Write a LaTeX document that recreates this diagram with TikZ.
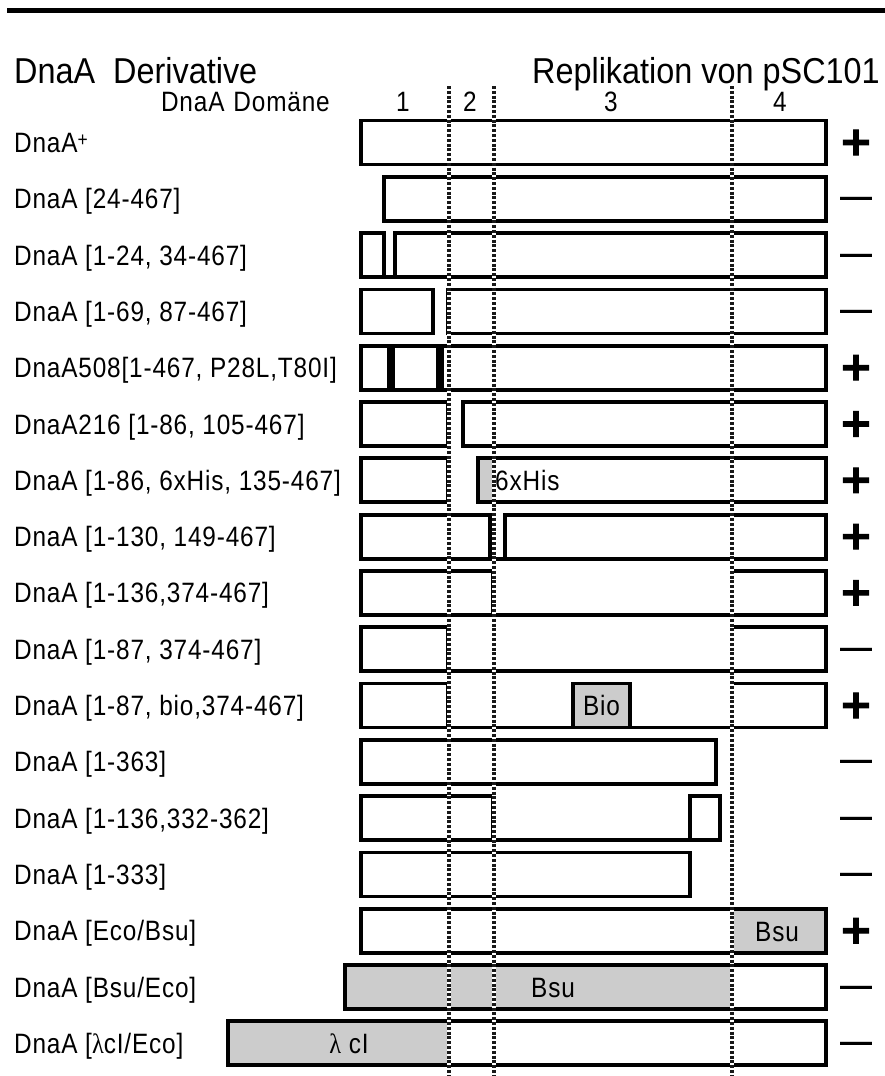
\documentclass[tikz,border=0pt]{standalone}
\usepackage{fontspec}
\setmainfont{Liberation Sans}
\newfontfamily\hdrfont{Liberation Sans}[FakeStretch=0.9]
\newfontfamily\lblfont{Liberation Sans}[FakeStretch=0.87,LetterSpace=3]
\newfontfamily\grfont{Liberation Serif}[FakeStretch=0.87]
\newfontfamily\plusfont{DejaVu Sans Bold}[FakeBold=2.5]
\newfontfamily\minusfont{Liberation Sans Bold}
\definecolor{fillg}{gray}{0.8}
\begin{document}
\begin{tikzpicture}[x=1pt,y=-1pt,
  bx/.style={draw=black,line width=3.8pt,fill=white},
  bxl/.style={draw=black,line width=3.8pt},
  gfill/.style={fill=fillg},
  dotbase/.style={draw=white,line width=3.2pt},
  dotl/.style={draw=black!90,line width=3.2pt,dash pattern=on 3pt off 1.8pt},
  lbl/.style={anchor=base west,inner sep=0pt,font=\lblfont\fontsize{28}{32}\selectfont},
  intext/.style={anchor=base,inner sep=0pt,font=\lblfont\fontsize{28}{32}\selectfont},
  hdr/.style={inner sep=0pt,font=\hdrfont\fontsize{36}{40}\selectfont},
  plussign/.style={anchor=center,inner sep=0pt,font=\plusfont\fontsize{40}{42}\selectfont},
  minussign/.style={anchor=base,inner sep=0pt,font=\minusfont\fontsize{32}{36}\selectfont}]
\useasboundingbox (0,0) rectangle (885,1076);
% top rule
\draw[line width=5pt] (7,10) -- (885,10);
% header
\node[hdr,anchor=base west] (h1) at (14,83) {DnaA\ \ Derivative};
\node[hdr,anchor=base east] (h2) at (880,83) {Replikation von pSC101};
\node[intext,anchor=base east] (dom) at (330,111.5) {DnaA\hspace{9pt}Domäne};
\node[intext] (d1) at (403,111.5) {1};
\node[intext] (d2) at (470,111.5) {2};
\node[intext] (d3) at (611,111.5) {3};
\node[intext] (d4) at (780,111.5) {4};

% ---- boxes ----
% row 1
\draw[bx] (361,120.5) rectangle (826,164.5);
% row 2
\draw[bx] (384,176.8) rectangle (826,220.8);
% row 3
\draw[bxl] (384,277.1) -- (395,277.1);
\draw[bx] (361,233.1) rectangle (384,277.1);
\draw[bx] (395,233.1) rectangle (826,277.1);
% row 4
\draw[bx] (361,289.4) rectangle (433,333.4);
\draw[bx] (448,289.4) rectangle (826,333.4);
% row 5
\draw[bx] (361,345.7) rectangle (826,389.7);
\fill (387,345.7) rectangle (395,389.7);
\fill (436,345.7) rectangle (444,389.7);
% row 6
\draw[bx] (361,402) rectangle (448,446);
\draw[bx] (463,402) rectangle (826,446);
% row 7
\draw[bx] (361,458.3) rectangle (448,502.3);
\fill[gfill] (478,458.3) rectangle (493,502.3);
\draw[bxl] (478,458.3) rectangle (826,502.3);
% row 8
\draw[bxl] (490,558.6) -- (505,558.6);
\draw[bx] (361,514.6) rectangle (490,558.6);
\draw[bx] (505,514.6) rectangle (826,558.6);
% row 9
\draw[bxl] (493,614.9) -- (732,614.9);
\draw[bx] (361,570.9) rectangle (493,614.9);
\draw[bx] (732,570.9) rectangle (826,614.9);
% row 10
\draw[bxl] (448,671.2) -- (732,671.2);
\draw[bx] (361,627.2) rectangle (448,671.2);
\draw[bx] (732,627.2) rectangle (826,671.2);
% row 11
\draw[bxl] (448,727.5) -- (732,727.5);
\draw[bx] (361,683.5) rectangle (448,727.5);
\draw[bx,gfill] (573,683.5) rectangle (630,727.5);
\draw[bx] (732,683.5) rectangle (826,727.5);
% row 12
\draw[bx] (361,739.8) rectangle (716,783.8);
% row 13
\draw[bxl] (493,840.1) -- (690,840.1);
\draw[bx] (361,796.1) rectangle (493,840.1);
\draw[bx] (690,796.1) rectangle (720,840.1);
% row 14
\draw[bx] (361,852.4) rectangle (690,896.4);
% row 15
\fill[gfill] (732,908.7) rectangle (826,952.7);
\draw[bxl] (361,908.7) rectangle (826,952.7);
% row 16
\fill[gfill] (345,965) rectangle (732,1009);
\draw[bxl] (345,965) rectangle (826,1009);
% row 17
\fill[gfill] (228,1021.3) rectangle (449,1065.3);
\draw[bxl] (228,1021.3) rectangle (826,1065.3);

% ---- dotted domain borders ----
\coordinate (v1t) at (449,86); \coordinate (v1b) at (449,1076);
\coordinate (v2t) at (494,86); \coordinate (v2b) at (494,1076);
\coordinate (v3t) at (732,86); \coordinate (v3b) at (732,1076);
\foreach \t/\b in {v1t/v1b,v2t/v2b,v3t/v3b}{
  \draw[dotbase] (\t) -- (\b);
  \draw[dotl] (\t) -- (\b);
}

% ---- texts inside boxes ----
\node[intext,anchor=base west] (his) at (495,490) {6xHis};
\node[intext] (bio) at (601.5,715.5) {Bio};
\node[intext] (bsu1) at (777,941) {Bsu};
\node[intext] (bsu2) at (553,997) {Bsu};
\node[intext] (lcl) at (349,1053.5) {{\grfont λ} cI};

% ---- row labels ----
\node[lbl] (r1) at (14,152.5) {DnaA\raisebox{6pt}{\fontsize{20}{22}\selectfont +}};
\node[lbl] (r2) at (14,208.8) {DnaA [24-467]};
\node[lbl] (r3) at (14,265.1) {DnaA [1-24, 34-467]};
\node[lbl] (r4) at (14,321.4) {DnaA [1-69, 87-467]};
\node[lbl] (r5) at (14,377.7) {DnaA508[1-467, P28L,T80I]};
\node[lbl] (r6) at (14,434) {DnaA216 [1-86, 105-467]};
\node[lbl] (r7) at (14,490.3) {DnaA [1-86, 6xHis, 135-467]};
\node[lbl] (r8) at (14,546.6) {DnaA [1-130, 149-467]};
\node[lbl] (r9) at (14,602.9) {DnaA [1-136,374-467]};
\node[lbl] (r10) at (14,659.2) {DnaA [1-87, 374-467]};
\node[lbl] (r11) at (14,715.5) {DnaA [1-87, bio,374-467]};
\node[lbl] (r12) at (14,771.8) {DnaA [1-363]};
\node[lbl] (r13) at (14,828.1) {DnaA [1-136,332-362]};
\node[lbl] (r14) at (14,884.4) {DnaA [1-333]};
\node[lbl] (r15) at (14,940.7) {DnaA [Eco/Bsu]};
\node[lbl] (r16) at (14,997) {DnaA [Bsu/Eco]};
\node[lbl] (r17) at (14,1053.3) {DnaA [{\grfont λ}cI/Eco]};

% ---- results ----
\node[plussign] (s1) at (856,142.5) {+};
\node[minussign] (s2) at (856,207.8) {—};
\node[minussign] (s3) at (856,264.1) {—};
\node[minussign] (s4) at (856,320.4) {—};
\node[plussign] (s5) at (856,367.7) {+};
\node[plussign] (s6) at (856,424) {+};
\node[plussign] (s7) at (856,480.3) {+};
\node[plussign] (s8) at (856,536.6) {+};
\node[plussign] (s9) at (856,592.9) {+};
\node[minussign] (s10) at (856,658.2) {—};
\node[plussign] (s11) at (856,705.5) {+};
\node[minussign] (s12) at (856,770.8) {—};
\node[minussign] (s13) at (856,827.1) {—};
\node[minussign] (s14) at (856,883.4) {—};
\node[plussign] (s15) at (856,930.7) {+};
\node[minussign] (s16) at (856,996) {—};
\node[minussign] (s17) at (856,1052.3) {—};
\end{tikzpicture}
\end{document}
